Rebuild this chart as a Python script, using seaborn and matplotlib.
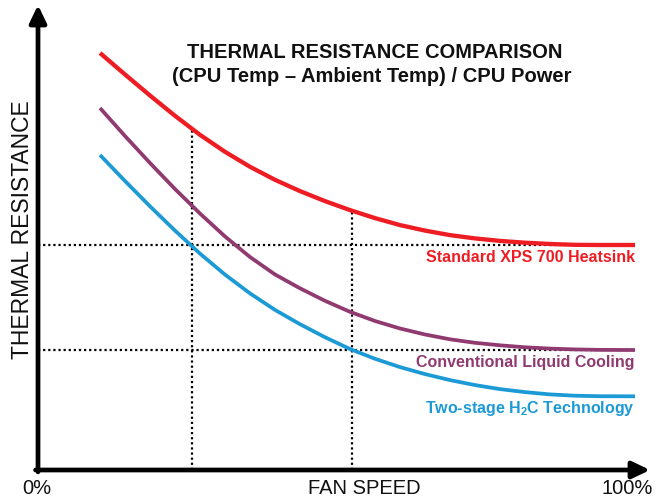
import matplotlib
matplotlib.use("Agg")
import matplotlib.pyplot as plt
import seaborn as sns
import pandas as pd
import numpy as np

# ---- data (fan speed %, relative thermal resistance) ----
fan_speed = [10.10, 14.17, 18.24, 22.31, 26.38, 30.46, 34.53, 38.60, 42.67, 46.74, 50.81,
             54.89, 58.96, 63.03, 67.10, 71.17, 75.24, 79.32, 83.39, 87.46, 91.53, 97.23]
standard_xps = [90.26, 85.61, 81.06, 76.67, 72.55, 68.87, 65.63, 62.81, 60.37, 58.20, 56.26,
                54.52, 53.01, 51.82, 50.84, 50.13, 49.59, 49.20, 48.92, 48.74, 48.70, 48.70]
liquid_cooling = [78.35, 72.29, 66.45, 60.82, 55.52, 50.54, 46.10, 42.32, 39.33, 36.62, 34.24,
                  32.25, 30.63, 29.33, 28.29, 27.53, 26.99, 26.56, 26.28, 26.10, 26.00, 25.97]
h2c_tech = [68.18, 62.55, 57.08, 51.82, 46.84, 42.29, 38.23, 34.65, 31.56, 28.74, 26.19,
            24.07, 22.27, 20.76, 19.46, 18.38, 17.51, 16.86, 16.36, 16.08, 15.97, 15.95]
series_names = ["Standard XPS 700 Heatsink", "Conventional Liquid Cooling",
                "Two-stage H$_2$C Technology"]
ref_x = [25.1, 51.1]          # vertical guide lines (fan speed)
ref_y = [48.7, 25.95]         # horizontal guide lines (resistance)
title_lines = ["THERMAL RESISTANCE COMPARISON",
               "(CPU Temp \u2013 Ambient Temp) / CPU Power"]

colors = ["#EE1D24", "#903A70", "#1C9AD6"]
widths = [3.1, 2.7, 2.7]
label_y = [45.9, 23.2, 13.4]

sns.set_theme(style="white")
plt.rcParams["font.family"] = ["Liberation Sans", "DejaVu Sans"]
plt.rcParams["mathtext.fontset"] = "custom"
plt.rcParams["mathtext.rm"] = "Liberation Sans:bold"
plt.rcParams["mathtext.it"] = "Liberation Sans:bold"
plt.rcParams["mathtext.bf"] = "Liberation Sans:bold"

W, H = 662, 500
fig = plt.figure(figsize=(W / 100, H / 100), dpi=100)
fig.patch.set_facecolor("white")
ax = fig.add_axes([38 / W, 30 / H, 612 / W, 465 / H])
ax.set_xlim(0, 612 / 6.14)
ax.set_ylim(0, 465 / 4.62)
ax.set_axis_off()

all_vals = [standard_xps, liquid_cooling, h2c_tech]
for name, vals, c, lw in zip(series_names, all_vals, colors, widths):
    df = pd.DataFrame({"fan": fan_speed, "res": vals})
    sns.lineplot(data=df, x="fan", y="res", ax=ax, color=c, linewidth=lw,
                 sort=False, legend=False, solid_capstyle="butt",
                 solid_joinstyle="round")

# dotted guide lines
dot = dict(color="black", linewidth=1.6, linestyle=(0, (1, 1.3)), zorder=1)
for yv in ref_y:
    ax.plot([0, fan_speed[-1]], [yv, yv], **dot)
for xv in ref_x:
    top = float(np.interp(xv, fan_speed, standard_xps))
    ax.plot([xv, xv], [0, top], **dot)

# curve labels
for name, c, yv in zip(series_names, colors, label_y):
    ax.text(fan_speed[-1], yv, name, color=c, fontsize=11.5, fontweight="bold",
            ha="right", va="center")

# axes arrows
arrow = dict(arrowstyle="-|>,head_length=0.75,head_width=0.36", lw=3.4, color="black",
             shrinkA=0, shrinkB=0, mutation_scale=14)
ax.annotate("", xy=(1.0, 0), xytext=(-0.004, 0), xycoords="axes fraction",
            arrowprops=arrow, zorder=5)
ax.annotate("", xy=(0, 1.0), xytext=(0, -0.004), xycoords="axes fraction",
            arrowprops=arrow, zorder=5)

# titles and axis texts
fig.text(375 / W, 1 - 53 / H, title_lines[0], ha="center", va="center",
         fontsize=14.5, fontweight="bold", color="#111111")
fig.text(372 / W, 1 - 77 / H, title_lines[1], ha="center", va="center",
         fontsize=14.5, fontweight="bold", color="#111111")
fig.text(23 / W, 1 - 230 / H, "THERMAL RESISTANCE", rotation=90, ha="center",
         va="center", fontsize=16.5, color="#111111")
fig.text(364 / W, 1 - 489 / H, "FAN SPEED", ha="center", va="center",
         fontsize=14.5, color="#111111")
fig.text(37 / W, 1 - 489 / H, "0%", ha="center", va="center",
         fontsize=14.5, color="#111111")
fig.text(627 / W, 1 - 489 / H, "100%", ha="center", va="center",
         fontsize=14.5, color="#111111")

fig.savefig("out.png", dpi=100, facecolor="white")
